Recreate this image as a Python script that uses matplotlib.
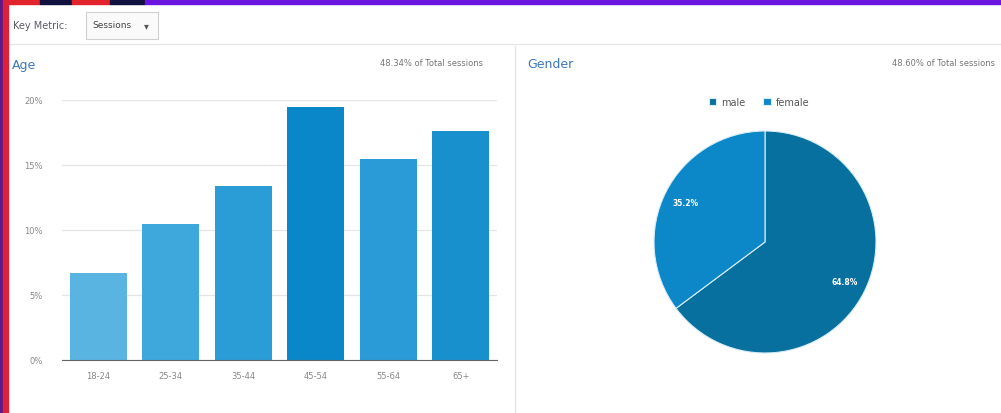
import matplotlib.pyplot as plt
from matplotlib.patches import Rectangle

# data
age_groups = ['18-24', '25-34', '35-44', '45-54', '55-64', '65+']
age_share = [6.7, 10.5, 13.4, 19.5, 15.5, 17.6]
age_colors = ['#5ab4e2', '#3ea7dc', '#2a9cd6', '#0a87c8', '#2a9bd6', '#1890cd']
y_ticks = [0, 5, 10, 15, 20]

genders = ['male', 'female']
gender_share = [64.8, 35.2]
gender_colors = ['#07709f', '#0c87c7']

W, H = 1001, 414


def fx(px):
    return px / W


def fy(py):
    # pixel y from the top -> figure fraction
    return 1 - py / H


fig = plt.figure(figsize=(W / 100, H / 100), dpi=100)
fig.patch.set_facecolor('white')

# coloured strip on top and left border
strip = [(0, 40, '#e3232c'), (40, 72, '#11113f'), (72, 110, '#e3232c'),
         (110, 145, '#11113f'), (145, W, '#6a14e0')]
for x0, x1, c in strip:
    fig.patches.append(Rectangle((fx(x0), fy(5)), fx(x1 - x0), 5 / H,
                                 transform=fig.transFigure, color=c, zorder=5))
fig.patches.append(Rectangle((0, 0), fx(3), 1, transform=fig.transFigure,
                             color='#5a1a8a', zorder=5))
fig.patches.append(Rectangle((fx(3), 0), fx(5), 1, transform=fig.transFigure,
                             color='#e0203a', zorder=5))

# key metric selector
fig.text(fx(13), fy(26), 'Key Metric:', fontsize=7, color='#5a5a6a', va='center')
fig.patches.append(Rectangle((fx(86), fy(40)), fx(72), 27 / H, transform=fig.transFigure,
                             facecolor='#fafafa', edgecolor='#d0d0d0', lw=0.8))
fig.text(fx(92), fy(26), 'Sessions', fontsize=6.5, color='#444444', va='center')
fig.text(fx(146), fy(26), '▾', fontsize=7, color='#555555', va='center', ha='center')

# separators
fig.add_artist(plt.Line2D([fx(8), 1], [fy(45), fy(45)], color='#e6e6e6', lw=1))
fig.add_artist(plt.Line2D([fx(515), fx(515)], [0, fy(47)], color='#e6e6e6', lw=1))

# panel headers
fig.text(fx(12), fy(65), 'Age', fontsize=9, color='#3b78b8', va='center')
fig.text(fx(483), fy(63), '48.34% of Total sessions', fontsize=6, color='#777777',
         va='center', ha='right')
fig.text(fx(527), fy(65), 'Gender', fontsize=9, color='#3b78b8', va='center')
fig.text(fx(995), fy(63), '48.60% of Total sessions', fontsize=6, color='#777777',
         va='center', ha='right')

# Age bar chart
ax = fig.add_axes([fx(62), fy(361), fx(435), 260 / H])
ax.bar(range(len(age_groups)), age_share, width=0.78, color=age_colors, zorder=3)
ax.set_xlim(-0.5, len(age_groups) - 0.5)
ax.set_ylim(0, 20)
ax.set_yticks(y_ticks)
ax.set_yticklabels([f'{t}%' for t in y_ticks])
ax.set_xticks(range(len(age_groups)))
ax.set_xticklabels(age_groups)
ax.tick_params(length=0, labelsize=6, colors='#888888')
ax.tick_params(axis='y', pad=14)
ax.tick_params(axis='x', pad=8)
ax.grid(axis='y', color='#e4e4e4', lw=0.9, zorder=0)
for side in ['top', 'right', 'left']:
    ax.spines[side].set_visible(False)
ax.spines['bottom'].set_color('#666666')
ax.spines['bottom'].set_zorder(4)

# Gender pie
pax = fig.add_axes([fx(654), fy(354), fx(222), 222 / H])
wedges, _, autotexts = pax.pie(gender_share, colors=gender_colors, startangle=90,
                               counterclock=False, autopct='%.1f%%', pctdistance=0.8,
                               wedgeprops=dict(edgecolor='#d8eef8', linewidth=0.8))
for t in autotexts:
    t.set_color('white')
    t.set_fontsize(5.5)
    t.set_fontweight('bold')
pax.set_xlim(-1, 1)
pax.set_ylim(-1, 1)
pax.set_aspect('equal')

fig.legend(wedges, genders, loc='center', bbox_to_anchor=(fx(759), fy(103)), ncol=2,
           frameon=False, fontsize=7, handlelength=0.8, handleheight=0.8,
           columnspacing=1.8, handletextpad=0.5, labelcolor='#555555')

fig.savefig('out.png', dpi=100)
